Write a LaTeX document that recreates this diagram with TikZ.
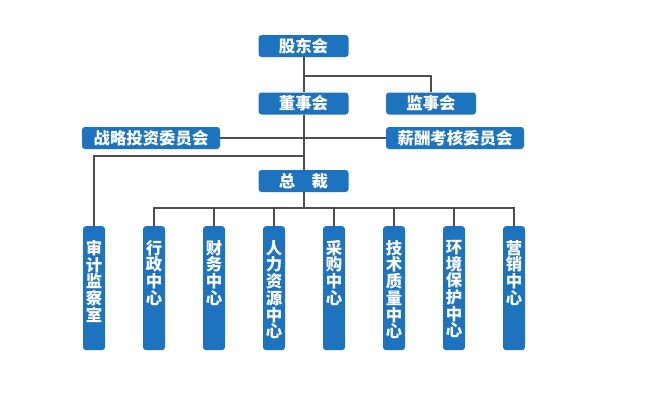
\documentclass[tikz,border=0pt]{standalone}
\usepackage{fontspec}
\newfontfamily\cjk{Noto Sans CJK SC}
\newcommand{\colbox}[1]{\parbox[t][96pt][t]{17pt}{\centering #1}}
\definecolor{boxblue}{HTML}{1E73BE}
\definecolor{linegray}{HTML}{4D4D4D}

\begin{document}
\begin{tikzpicture}[x=1pt,y=-1pt,
  box/.style={fill=boxblue,rounded corners=3pt,text=white,font=\cjk\bfseries\fontsize{16.4pt}{16.7pt}\selectfont,inner sep=0,minimum height=22pt},
  wide/.style={box,minimum width=90pt},
  committee/.style={box,minimum width=138pt},
  column/.style={box,anchor=north,minimum width=22pt,minimum height=124pt},
  link/.style={draw=linegray,line width=2pt}]
\useasboundingbox (0,0) rectangle (652,400);
\node [wide] (gdh) at (303.5,46) {股东会};
\node [wide] (dsh) at (303.5,103.5) {董事会};
\node [wide] (jsh) at (431,103.5) {监事会};
\node [committee] (zlw) at (151,138) {战略投资委员会};
\node [committee] (xcw) at (455,138) {薪酬考核委员会};
\node [wide] (zc) at (303.5,181) {总\hspace{1em}裁};
\coordinate (sj) at (303.5,156);
\foreach \name [count=\i from 0] in {审\\计\\监\\察\\室,行\\政\\中\\心,财\\务\\中\\心,人\\力\\资\\源\\中\\心,采\\购\\中\\心,技\\术\\质\\量\\中\\心,环\\境\\保\\护\\中\\心,营\\销\\中\\心}
  \node [column] (c\i) at (94+60*\i,226) {\colbox{\name}};
\draw [link] (gdh.south) -- (dsh.north);
\draw [link] (gdh.south) ++(0,19) -| (jsh.north);
\draw [link] (dsh.south) -- (zc.north);
\draw [link] (zlw.east) -- (xcw.west);
\draw [link] (sj) -| (c0.north);
\foreach \i in {1,...,7}
  \draw [link] (zc.south) -- ++(0,16) -| (c\i.north);
\end{tikzpicture}
\end{document}
